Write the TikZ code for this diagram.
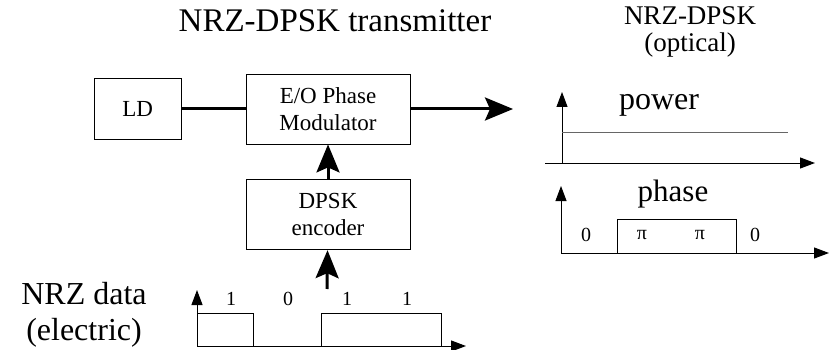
\documentclass[tikz,border=0pt]{standalone}
\usepackage{fontspec}
\setmainfont{Liberation Serif}
\usetikzlibrary{arrows.meta, positioning}

\begin{document}
\begin{tikzpicture}[x=1pt, y=-1pt,
		block/.style={draw, rectangle, line width=0.8pt, align=center,
			inner sep=0pt, font=\fontsize{23}{27}\selectfont},
		link/.style={line width=3pt},
		feed/.style={line width=3pt, -{Stealth[length=28pt, width=23pt, inset=5pt]}},
		axis/.style={line width=1pt, -{Triangle[length=15pt, width=11pt]}},
		wave/.style={line width=1pt},
		bit/.style={font=\fontsize{20}{22}\selectfont, inner sep=0pt}]
	\useasboundingbox (0,0) rectangle (834,350);

	% transmitter blocks
	\node (mod) [block, minimum width=164pt, minimum height=70pt] at (328,109)
		{E/O Phase\\Modulator};
	\node (ld) [block, minimum width=87pt, minimum height=61pt, left=64pt of mod] {LD};
	\node (enc) [block, minimum width=164pt, minimum height=70pt, below=35pt of mod]
		{DPSK\\encoder};

	% headings
	\node (title) [font=\fontsize{33}{36}\selectfont] at (335,21) {NRZ-DPSK transmitter};
	\node (optical) [font=\fontsize{27}{27}\selectfont, align=center] at (690,32)
		{NRZ-DPSK\\(optical)};
	\node (power) [font=\fontsize{32}{34}\selectfont] at (659,105) {power};
	\node (phase) [font=\fontsize{31}{34}\selectfont] at (673,194) {phase};
	\node (nrz) [font=\fontsize{32}{36}\selectfont, align=center] at (84,315)
		{NRZ data\\(electric)};

	\coordinate (out) at (513,109);
	\coordinate (in) at (327,289);

	\draw [link] (ld) -- (mod);
	\draw [feed] (mod) -- (out);
	\draw [feed] (enc) -- (mod);
	\draw [feed] (in) -- (enc);

	% optical power
	\draw [axis] (562,163) -- (562,92);
	\draw [axis] (545,163) -- (815,163);
	\draw [wave, black!60] (562,132) -- (788,132);

	% optical phase
	\draw [axis] (561,253) -- (561,186);
	\draw [axis] (561,253) -- (829,253);
	\draw [wave] (617,253) -- (617,219) -- (736,219) -- (736,253);
	\node (ph1) [bit] at (586,235) {0};
	\node (ph2) [bit] at (642,235) {π};
	\node (ph3) [bit] at (700,235) {π};
	\node (ph4) [bit] at (755,235) {0};

	% electric data
	\draw [axis] (197,346) -- (197,290);
	\draw [axis] (197,346) -- (466,346);
	\draw [wave] (197,313) -- (253,313) -- (253,346);
	\draw [wave] (321,346) -- (321,313) -- (441,313) -- (441,346);
	\node (b1) [bit] at (231,299) {1};
	\node (b2) [bit] at (288,299) {0};
	\node (b3) [bit] at (347,299) {1};
	\node (b4) [bit] at (407,299) {1};
\end{tikzpicture}
\end{document}
